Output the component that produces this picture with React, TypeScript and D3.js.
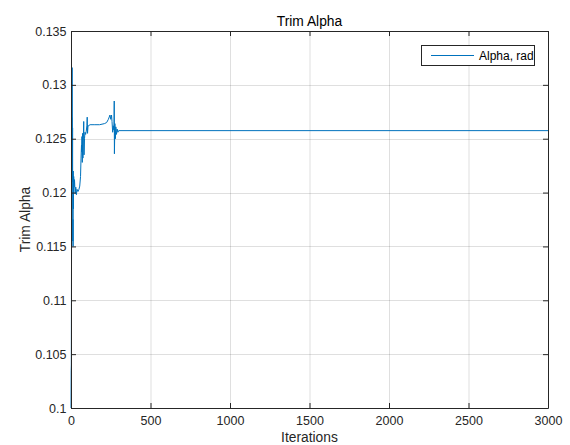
import { useRef, useEffect } from 'react';
import * as d3 from 'd3';

// iteration / trim alpha value pairs
const iterations = [
  0, 1, 2, 3, 4, 5, 6, 7, 8, 9, 10, 11, 12, 13, 14, 15, 17, 19, 22, 26, 30, 34, 38, 44, 50, 55,
  60, 63, 66, 67, 69, 71, 73, 75, 77, 80, 82, 85, 88, 92, 96, 100, 102, 104, 107, 109,
  120, 150, 180, 210, 224, 235, 245, 250, 255, 258, 262, 266, 270, 272, 273, 276, 279, 282,
  286, 290, 295, 300, 3000,
];
const alphaValues = [
  0.1, 0.1035, 0.104, 0.112, 0.118, 0.127, 0.1225, 0.1316, 0.127, 0.121, 0.126, 0.1155, 0.1175,
  0.115, 0.122, 0.1185, 0.1215, 0.1205, 0.1212, 0.1199, 0.1205, 0.1198, 0.1203, 0.1201, 0.1203,
  0.1206, 0.1215, 0.1232, 0.1244, 0.1238, 0.1252, 0.1228, 0.1255, 0.1232, 0.1248, 0.1266,
  0.1235, 0.125, 0.1256, 0.1254, 0.1257, 0.1262, 0.127, 0.1255, 0.1262, 0.1262,
  0.1263, 0.1263, 0.1263, 0.1264, 0.1265, 0.1268, 0.1272, 0.1268, 0.1272, 0.1266, 0.1256,
  0.1262, 0.1258, 0.1285, 0.1236, 0.1264, 0.125, 0.1261, 0.1254, 0.1259, 0.1256, 0.12575,
  0.12575,
];

const xTicks = [0, 500, 1000, 1500, 2000, 2500, 3000];
const yTicks = [0.1, 0.105, 0.11, 0.115, 0.12, 0.125, 0.13, 0.135];
const yTickLabels = ['0.1', '0.105', '0.11', '0.115', '0.12', '0.125', '0.13', '0.135'];
const seriesName = 'Alpha, rad';

const App = () => {
  const svgRef = useRef<SVGSVGElement>(null);

  useEffect(() => {
    if (!svgRef.current) return;
    const width = 570;
    const height = 445;
    const margin = { top: 31, right: 22, bottom: 37, left: 71 };
    const font = '"Liberation Sans", Arial, Helvetica, sans-serif';
    const axisColor = '#262626';
    const lineColor = '#0072bd';

    const svg = d3.select(svgRef.current).attr('width', width).attr('height', height);
    svg.selectAll('*').remove();

    const x = d3.scaleLinear()
      .domain([0, 3000])
      .range([margin.left, width - margin.right]);
    const y = d3.scaleLinear()
      .domain([0.1, 0.135])
      .range([height - margin.bottom, margin.top]);

    svg.append('rect')
      .attr('width', width).attr('height', height).attr('fill', '#ffffff');

    // grid
    const grid = svg.append('g').attr('stroke', axisColor).attr('stroke-opacity', 0.15);
    grid.selectAll('line.vx')
      .data(xTicks.slice(1, -1))
      .join('line')
      .attr('class', 'vx')
      .attr('x1', d => x(d) + 0.5).attr('x2', d => x(d) + 0.5)
      .attr('y1', y(0.1)).attr('y2', y(0.135));
    grid.selectAll('line.hy')
      .data(yTicks.slice(1, -1))
      .join('line')
      .attr('class', 'hy')
      .attr('x1', x(0)).attr('x2', x(3000))
      .attr('y1', d => Math.round(y(d)) + 0.5).attr('y2', d => Math.round(y(d)) + 0.5);

    // data line
    const points = iterations.map((it, i) => [it, alphaValues[i]] as [number, number]);
    const line = d3.line<[number, number]>()
      .x(d => x(d[0]))
      .y(d => y(d[1]));
    svg.append('path')
      .datum(points)
      .attr('d', line)
      .attr('fill', 'none')
      .attr('stroke', lineColor)
      .attr('stroke-width', 1)
      .attr('stroke-linejoin', 'round');

    // axes (box with inward ticks)
    const tickLen = 5;
    const bottom = svg.append('g')
      .attr('transform', `translate(0,${y(0.1)})`)
      .call(d3.axisBottom(x).tickValues(xTicks).tickFormat(d3.format('d'))
        .tickSize(-tickLen).tickPadding(8).tickSizeOuter(0));
    const left = svg.append('g')
      .attr('transform', `translate(${x(0)},0)`)
      .call(d3.axisLeft(y).tickValues(yTicks).tickFormat((_, i) => yTickLabels[i])
        .tickSize(-tickLen).tickPadding(4.5).tickSizeOuter(0));
    const top = svg.append('g')
      .attr('transform', `translate(0,${y(0.135)})`)
      .call(d3.axisTop(x).tickValues(xTicks).tickSize(-tickLen).tickFormat(() => '').tickSizeOuter(0));
    const right = svg.append('g')
      .attr('transform', `translate(${x(3000)},0)`)
      .call(d3.axisRight(y).tickValues(yTicks).tickSize(-tickLen).tickFormat(() => '').tickSizeOuter(0));

    [bottom, left, top, right].forEach(g => {
      g.select('.domain').attr('stroke', axisColor);
      g.selectAll('.tick line').attr('stroke', axisColor);
      g.selectAll('.tick text')
        .attr('fill', axisColor)
        .style('font-family', font)
        .style('font-size', '12.5px');
    });

    // title and labels
    svg.append('text')
      .attr('x', (x(0) + x(3000)) / 2).attr('y', 26)
      .attr('text-anchor', 'middle')
      .attr('fill', '#000')
      .style('font-family', font).style('font-size', '13.8px')
      .text('Trim Alpha');
    svg.append('text')
      .attr('x', (x(0) + x(3000)) / 2).attr('y', 442)
      .attr('text-anchor', 'middle')
      .attr('fill', axisColor)
      .style('font-family', font).style('font-size', '13.8px')
      .text('Iterations');
    svg.append('text')
      .attr('transform', `translate(30,${(y(0.1) + y(0.135)) / 2}) rotate(-90)`)
      .attr('text-anchor', 'middle')
      .attr('fill', axisColor)
      .style('font-family', font).style('font-size', '13.8px')
      .text('Trim Alpha');

    // legend
    const legend = svg.append('g');
    legend.append('rect')
      .attr('x', 421.5).attr('y', 45.5).attr('width', 113).attr('height', 20)
      .attr('fill', '#ffffff').attr('stroke', axisColor).attr('stroke-width', 1);
    legend.append('line')
      .attr('x1', 431).attr('x2', 474).attr('y1', 55.5).attr('y2', 55.5)
      .attr('stroke', lineColor).attr('stroke-width', 1);
    legend.append('text')
      .attr('x', 479).attr('y', 60)
      .attr('fill', '#000')
      .style('font-family', font).style('font-size', '12px')
      .text(seriesName);
  }, []);

  return (
    <svg ref={svgRef} style={{ position: 'fixed', left: 0, top: 0, display: 'block' }} />
  );
};

export default App;
